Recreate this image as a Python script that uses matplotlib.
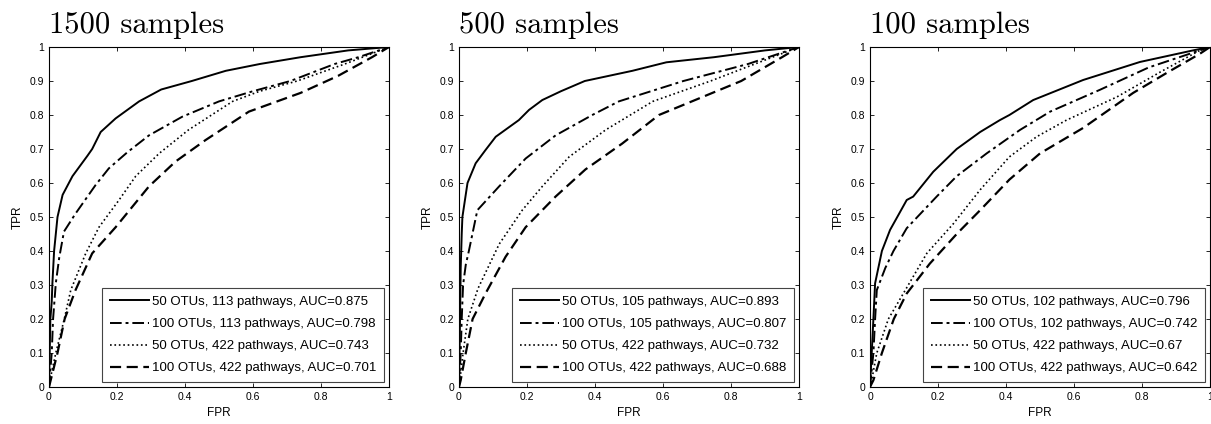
import numpy as np
import matplotlib.pyplot as plt

# panel titles and legend labels
titles = ['1500 samples', '500 samples', '100 samples']
labels = [
    ['50 OTUs, 113 pathways, AUC=0.875', '100 OTUs, 113 pathways, AUC=0.798',
     '50 OTUs, 422 pathways, AUC=0.743', '100 OTUs, 422 pathways, AUC=0.701'],
    ['50 OTUs, 105 pathways, AUC=0.893', '100 OTUs, 105 pathways, AUC=0.807',
     '50 OTUs, 422 pathways, AUC=0.732', '100 OTUs, 422 pathways, AUC=0.688'],
    ['50 OTUs, 102 pathways, AUC=0.796', '100 OTUs, 102 pathways, AUC=0.742',
     '50 OTUs, 422 pathways, AUC=0.67', '100 OTUs, 422 pathways, AUC=0.642'],
]

# 1500 samples
fpr_1500_a = [0, 0.002, 0.004, 0.008, 0.01, 0.015, 0.025, 0.04, 0.069, 0.113, 0.127, 0.152, 0.196, 0.265, 0.33, 0.42, 0.52, 0.62, 0.74, 0.88, 1]
tpr_1500_a = [0, 0.1, 0.2, 0.25, 0.305, 0.4, 0.5, 0.565, 0.62, 0.68, 0.70, 0.75, 0.79, 0.84, 0.875, 0.9, 0.93, 0.95, 0.97, 0.99, 1]
fpr_1500_b = [0, 0.008, 0.012, 0.02, 0.03, 0.044, 0.078, 0.137, 0.176, 0.23, 0.294, 0.392, 0.5, 0.6, 0.71, 0.84, 0.91, 1]
tpr_1500_b = [0, 0.1, 0.2, 0.305, 0.38, 0.457, 0.51, 0.594, 0.643, 0.69, 0.74, 0.795, 0.84, 0.87, 0.9, 0.95, 0.97, 1]
fpr_1500_c = [0, 0.005, 0.02, 0.045, 0.064, 0.108, 0.147, 0.206, 0.255, 0.324, 0.41, 0.54, 0.62, 0.73, 0.87, 1]
tpr_1500_c = [0, 0.03, 0.1, 0.2, 0.285, 0.393, 0.47, 0.55, 0.62, 0.687, 0.756, 0.84, 0.87, 0.9, 0.95, 1]
fpr_1500_d = [0, 0.005, 0.025, 0.046, 0.078, 0.127, 0.196, 0.245, 0.294, 0.372, 0.46, 0.588, 0.74, 0.85, 0.95, 1]
tpr_1500_d = [0, 0.02, 0.1, 0.2, 0.285, 0.393, 0.47, 0.53, 0.59, 0.663, 0.726, 0.81, 0.865, 0.915, 0.97, 1]

# 500 samples
fpr_500_a = [0, 0.003, 0.005, 0.008, 0.01, 0.025, 0.049, 0.078, 0.108, 0.176, 0.206, 0.245, 0.3, 0.37, 0.51, 0.61, 0.75, 0.9, 1]
tpr_500_a = [0, 0.2, 0.35, 0.45, 0.5, 0.6, 0.658, 0.697, 0.736, 0.785, 0.815, 0.844, 0.87, 0.9, 0.93, 0.955, 0.97, 0.99, 1]
fpr_500_b = [0, 0.005, 0.008, 0.012, 0.02, 0.029, 0.054, 0.118, 0.196, 0.284, 0.392, 0.47, 0.66, 0.85, 1]
tpr_500_b = [0, 0.1, 0.2, 0.3, 0.36, 0.40, 0.52, 0.59, 0.672, 0.74, 0.8, 0.84, 0.9, 0.95, 1]
fpr_500_c = [0, 0.012, 0.026, 0.056, 0.118, 0.186, 0.245, 0.324, 0.431, 0.57, 0.74, 0.87, 1]
tpr_500_c = [0, 0.1, 0.2, 0.29, 0.42, 0.52, 0.59, 0.677, 0.756, 0.84, 0.9, 0.95, 1]
fpr_500_d = [0, 0.005, 0.02, 0.04, 0.078, 0.137, 0.196, 0.284, 0.372, 0.48, 0.588, 0.83, 0.95, 1]
tpr_500_d = [0, 0.02, 0.1, 0.2, 0.275, 0.383, 0.47, 0.56, 0.64, 0.716, 0.8, 0.9, 0.97, 1]

# 100 samples
fpr_100_a = [0, 0.005, 0.01, 0.015, 0.035, 0.059, 0.083, 0.108, 0.127, 0.186, 0.255, 0.324, 0.382, 0.41, 0.48, 0.627, 0.794, 0.95, 1]
tpr_100_a = [0, 0.1, 0.2, 0.305, 0.4, 0.462, 0.505, 0.55, 0.56, 0.633, 0.70, 0.75, 0.785, 0.8, 0.844, 0.903, 0.956, 0.99, 1]
fpr_100_b = [0, 0.01, 0.015, 0.02, 0.045, 0.069, 0.108, 0.196, 0.255, 0.343, 0.441, 0.53, 0.676, 0.82, 0.97, 1]
tpr_100_b = [0, 0.1, 0.2, 0.285, 0.35, 0.40, 0.467, 0.56, 0.62, 0.687, 0.756, 0.81, 0.874, 0.94, 0.99, 1]
fpr_100_c = [0, 0.005, 0.02, 0.054, 0.098, 0.167, 0.245, 0.324, 0.41, 0.49, 0.578, 0.726, 0.853, 0.97, 1]
tpr_100_c = [0, 0.02, 0.1, 0.2, 0.275, 0.393, 0.48, 0.58, 0.677, 0.736, 0.785, 0.853, 0.926, 0.99, 1]
fpr_100_d = [0, 0.01, 0.035, 0.07, 0.108, 0.176, 0.255, 0.324, 0.41, 0.5, 0.627, 0.774, 0.873, 0.97, 1]
tpr_100_d = [0, 0.02, 0.1, 0.2, 0.275, 0.363, 0.45, 0.52, 0.61, 0.687, 0.762, 0.865, 0.924, 0.98, 1]

curves = [
    [(fpr_1500_a, tpr_1500_a), (fpr_1500_b, tpr_1500_b), (fpr_1500_c, tpr_1500_c), (fpr_1500_d, tpr_1500_d)],
    [(fpr_500_a, tpr_500_a), (fpr_500_b, tpr_500_b), (fpr_500_c, tpr_500_c), (fpr_500_d, tpr_500_d)],
    [(fpr_100_a, tpr_100_a), (fpr_100_b, tpr_100_b), (fpr_100_c, tpr_100_c), (fpr_100_d, tpr_100_d)],
]

styles = [('-', 1.4), ((0, (6, 2, 1.5, 2)), 1.4), (':', 1.2), ((0, (5, 2.5)), 1.6)]

plt.rcParams['font.family'] = ['Liberation Sans', 'DejaVu Sans']

fig = plt.figure(figsize=(12.11, 4.24), dpi=100)
lefts = [49, 459, 870]

for i in range(3):
    ax = fig.add_axes([lefts[i] / 1211, 37 / 424, 340 / 1211, 340 / 424])
    for (fpr, tpr), (ls, lw), lab in zip(curves[i], styles, labels[i]):
        ax.plot(fpr, tpr, color='black', linestyle=ls, linewidth=lw, label=lab)
    ax.set_xlim(0, 1)
    ax.set_ylim(0, 1)
    ax.set_xticks(np.arange(0, 1.01, 0.2))
    ax.set_yticks(np.arange(0, 1.01, 0.1))
    ax.set_xticklabels(['0', '0.2', '0.4', '0.6', '0.8', '1'])
    ax.set_yticklabels(['0'] + ['%.1f' % v for v in np.arange(0.1, 0.95, 0.1)] + ['1'])
    ax.tick_params(direction='in', length=3, labelsize=7.5, width=0.6, top=True, right=True)
    for s in ax.spines.values():
        s.set_linewidth(0.8)
    ax.set_xlabel('FPR', fontsize=8.5, labelpad=4)
    ax.set_ylabel('TPR', fontsize=8.5, labelpad=4)
    ax.text(0, 1.025, titles[i], transform=ax.transAxes, fontfamily='cmr10',
            fontsize=22, ha='left', va='bottom')
    leg = ax.legend(loc='lower right', fontsize=9.5, handlelength=3.0, handletextpad=0.2,
                    labelspacing=0.75, borderaxespad=0.35, borderpad=0.6,
                    fancybox=False, framealpha=1, edgecolor='#444444')
    leg.get_frame().set_linewidth(0.8)

fig.savefig('out.png', dpi=100)
